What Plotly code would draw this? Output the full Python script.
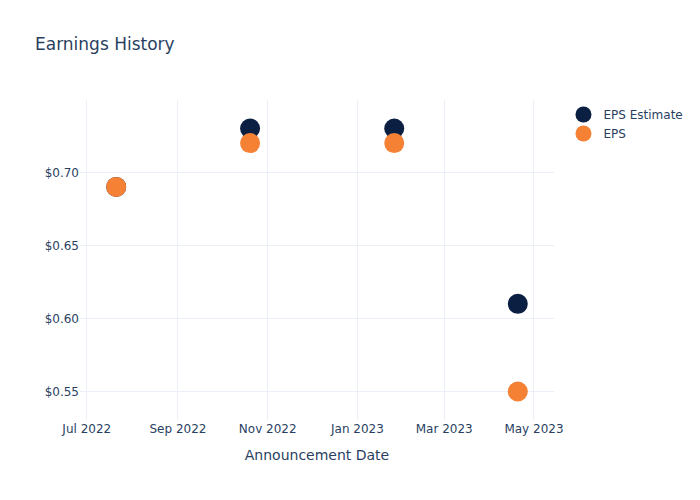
import plotly.graph_objects as go

dates = ["2022-07-21", "2022-10-20", "2023-01-26", "2023-04-20"]
eps_estimate = [0.69, 0.73, 0.73, 0.61]
eps_actual = [0.69, 0.72, 0.72, 0.55]

fig = go.Figure()
fig.add_trace(go.Scatter(x=dates, y=eps_estimate, mode="markers", name="EPS Estimate",
                         marker=dict(color="#0b1f42", size=20)))
fig.add_trace(go.Scatter(x=dates, y=eps_actual, mode="markers", name="EPS",
                         marker=dict(color="#f58134", size=20)))
fig.update_layout(
    template="plotly_white",
    width=700, height=500,
    font=dict(family="DejaVu Sans"),
    title=dict(text="Earnings History"),
    xaxis=dict(title="Announcement Date"),
    yaxis=dict(tickprefix="$", tickformat=".2f"),
)
fig.write_html("out.html")
